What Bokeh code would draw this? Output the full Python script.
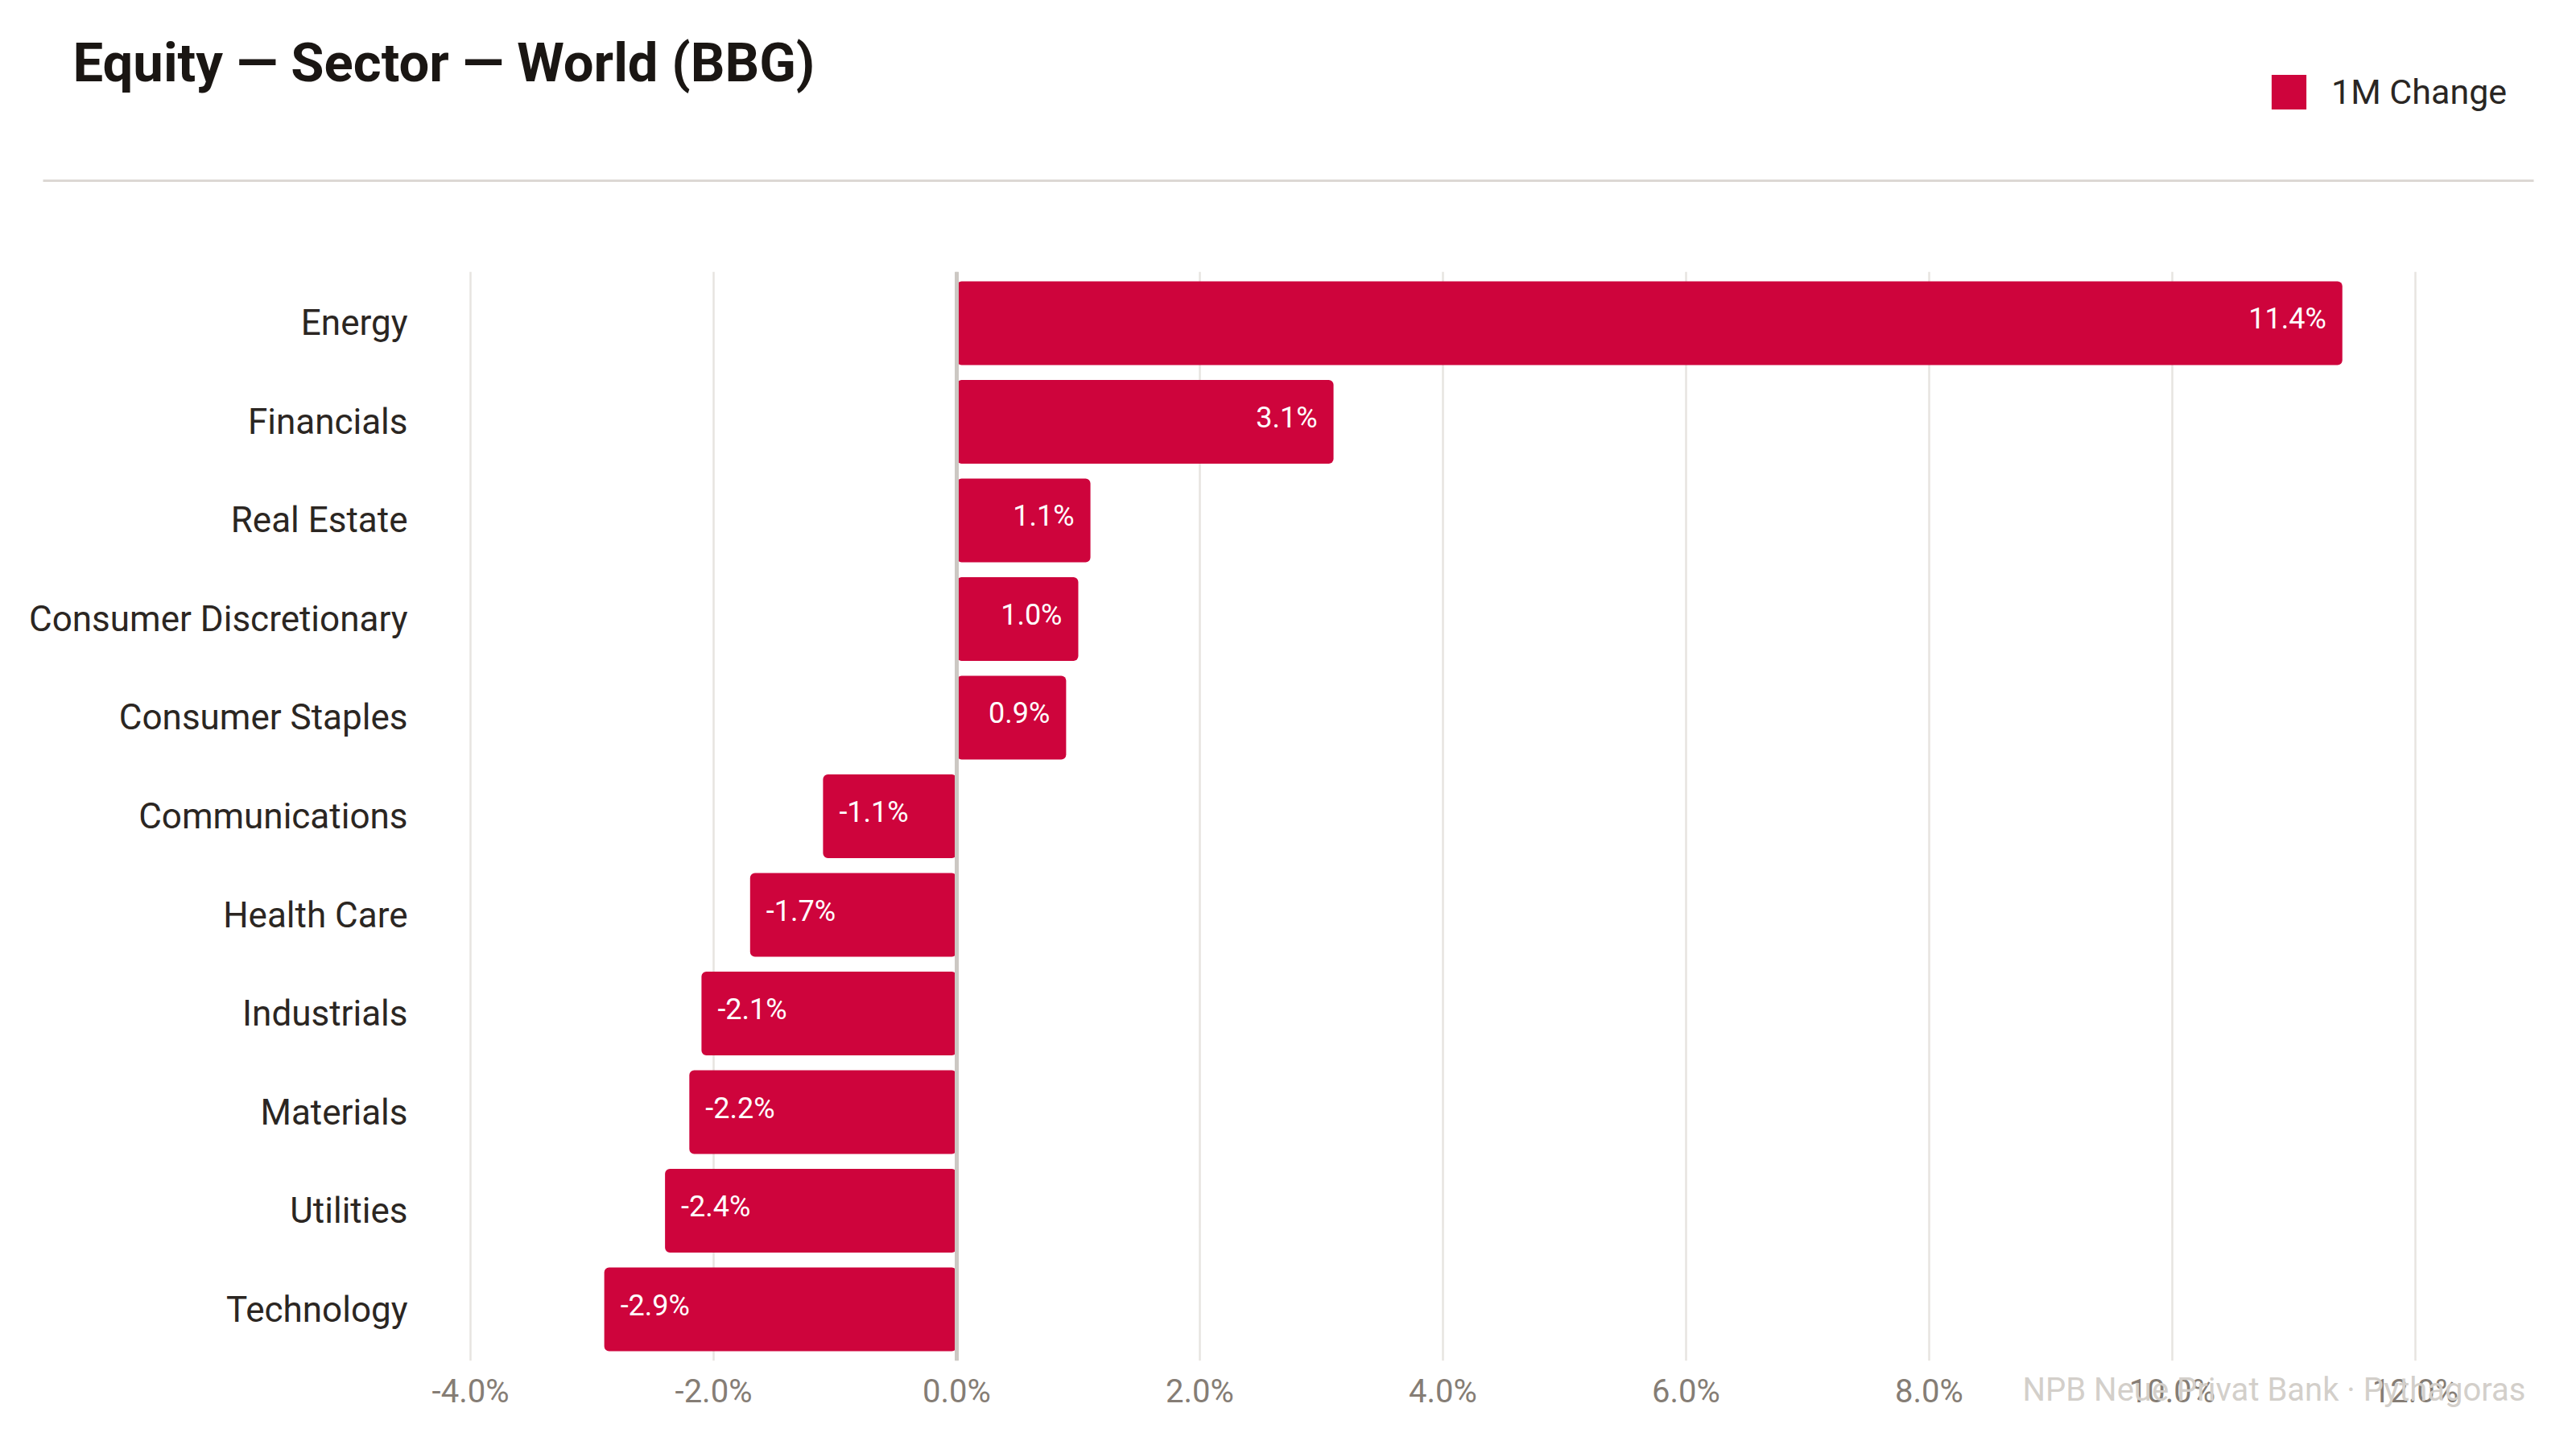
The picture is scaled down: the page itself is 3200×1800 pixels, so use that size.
from bokeh.plotting import figure
from bokeh.models import (FactorRange, Range1d, FixedTicker, PrintfTickFormatter,
                          Span, Label, Legend, LegendItem, ColumnDataSource, Title)
from bokeh.layouts import column
from bokeh.embed import file_html
from bokeh.resources import INLINE
from bokeh.core.properties import value

# ---------------- data ----------------
TITLE = "Equity — Sector — World (BBG)"
SERIES_NAME = "1M Change"
SOURCE_NOTE = "NPB Neue Privat Bank · Pythagoras"
categories = ["Energy", "Financials", "Real Estate", "Consumer Discretionary",
              "Consumer Staples", "Communications", "Health Care", "Industrials",
              "Materials", "Utilities", "Technology"]
change_1m = [11.4, 3.1, 1.1, 1.0, 0.9, -1.1, -1.7, -2.1, -2.2, -2.4, -2.9]
x_ticks = [-4, -2, 0, 2, 4, 6, 8, 10, 12]

# ---------------- style ----------------
SANS = "Roboto, sans-serif"
BAR = "#ce043c"
W = 3184
HDR_H = 232
MAIN_H = 1560
BL, BR, BT, BB = 578, 160, 105, 102
X0, X1 = -4.04, 12.16


def no_align(fig):
    try:
        fig.frame_align = False
    except Exception:
        pass


# ---------------- header: title, legend, rule ----------------
hdr = figure(width=W, height=HDR_H, x_range=Range1d(0, W), y_range=Range1d(HDR_H, 0),
             output_backend="svg", toolbar_location=None, min_border=0,
             x_axis_location=None, y_axis_location=None)
no_align(hdr)
hdr.grid.grid_line_color = None
hdr.outline_line_color = None
hdr.background_fill_color = "white"
hdr.border_fill_color = "white"

hdr.add_layout(Label(x=90, y=77, text=TITLE, text_font=SANS, text_font_style="bold",
                     text_font_size="67px", text_color="#1a1613",
                     text_baseline="alphabetic"))
hdr.segment(x0=[53], y0=[224], x1=[3147], y1=[224], line_color="#dcd8d4", line_width=3)

# legend swatch proxy (zero-size, only used for the legend entry)
proxy = hdr.hbar(y=[0], left=[0], right=[0], height=0, fill_color=BAR, line_color=None)
legend = Legend(items=[LegendItem(label=SERIES_NAME, renderers=[proxy])],
                location=(2816, 91), orientation="horizontal",
                glyph_width=54, glyph_height=54, label_standoff=26,
                padding=0, margin=0, border_line_color=None, background_fill_alpha=0,
                label_text_font=SANS, label_text_font_size="43px",
                label_text_color="#2a2623")
hdr.add_layout(legend)

# ---------------- main chart ----------------
p = figure(width=W, height=MAIN_H,
           y_range=FactorRange(factors=categories[::-1], range_padding=0.004),
           x_range=Range1d(X0, X1),
           output_backend="svg", toolbar_location=None,
           min_border_left=BL, min_border_right=BR, min_border_top=BT, min_border_bottom=BB)
no_align(p)
p.outline_line_color = None
p.background_fill_color = "white"
p.border_fill_color = "white"

src = ColumnDataSource(dict(cat=categories, val=change_1m,
                            lbl=[f"{v:.1f}%" for v in change_1m]))
bars = p.hbar(y="cat", left=0, right="val", height=0.85, source=src,
              fill_color=BAR, line_color=None, border_radius=6)

pos_idx = [i for i, v in enumerate(change_1m) if v >= 0]
neg_idx = [i for i, v in enumerate(change_1m) if v < 0]
src_pos = ColumnDataSource(dict(cat=[categories[i] for i in pos_idx],
                                val=[change_1m[i] for i in pos_idx],
                                lbl=[f"{change_1m[i]:.1f}%" for i in pos_idx]))
src_neg = ColumnDataSource(dict(cat=[categories[i] for i in neg_idx],
                                val=[change_1m[i] for i in neg_idx],
                                lbl=[f"{change_1m[i]:.1f}%" for i in neg_idx]))
p.text(x="val", y="cat", text="lbl", source=src_pos, text_align="right",
       text_baseline="middle", x_offset=-20, y_offset=-5, text_color="white",
       text_font=value(SANS), text_font_size="36px")
p.text(x="val", y="cat", text="lbl", source=src_neg, text_align="left",
       text_baseline="middle", x_offset=20, y_offset=-5, text_color="white",
       text_font=value(SANS), text_font_size="36px")

p.add_layout(Span(location=0, dimension="height", line_color="#ccc8c3", line_width=5))

p.xaxis.ticker = FixedTicker(ticks=x_ticks)
p.xaxis.formatter = PrintfTickFormatter(format="%.1f%%")
p.xaxis.axis_line_color = None
p.xaxis.major_tick_line_color = None
p.xaxis.minor_tick_line_color = None
p.xaxis.major_tick_out = 0
p.xaxis.major_label_text_font = SANS
p.xaxis.major_label_text_font_size = "40px"
p.xaxis.major_label_text_color = "#857d75"
p.xaxis.major_label_standoff = 14

p.yaxis.axis_line_color = None
p.yaxis.major_tick_line_color = None
p.yaxis.minor_tick_line_color = None
p.yaxis.major_label_text_font = SANS
p.yaxis.major_label_text_font_size = "44px"
p.yaxis.major_label_text_color = "#2b2622"
p.yaxis.major_label_standoff = 66

p.xgrid.ticker = FixedTicker(ticks=x_ticks)
p.xgrid.grid_line_color = "#e7e4e0"
p.xgrid.grid_line_width = 2.5
p.ygrid.grid_line_color = None

# source note at the bottom right, on the tick-label row
p.add_layout(Title(text=SOURCE_NOTE, align="right", offset=(W - BR) - 3137,
                   vertical_align="top", standoff=-104,
                   text_font=SANS, text_font_size="40px", text_color="#d3cfca",
                   text_font_style="normal"), "below")

layout = column(hdr, p)
open("out.html", "w").write(file_html(layout, INLINE))
